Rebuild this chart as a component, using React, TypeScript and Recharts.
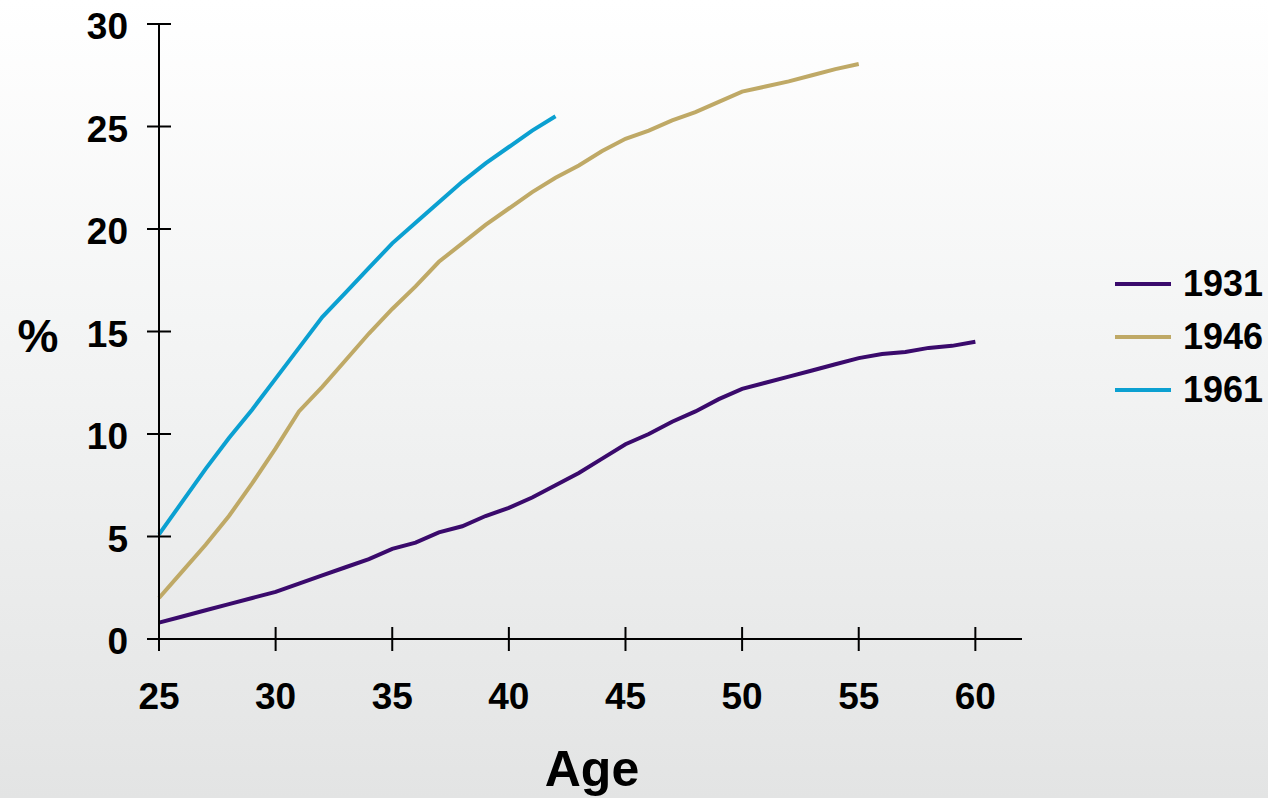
import React from 'react'
import { LineChart, Line, XAxis, YAxis } from 'recharts'

// ages 25..60, one point per year
const AGES = [
  25, 26, 27, 28, 29, 30, 31, 32, 33, 34, 35, 36, 37, 38, 39, 40, 41, 42,
  43, 44, 45, 46, 47, 48, 49, 50, 51, 52, 53, 54, 55, 56, 57, 58, 59, 60,
]

const COHORT_1931 = [
  0.8, 1.1, 1.4, 1.7, 2.0, 2.3, 2.7, 3.1, 3.5, 3.9, 4.4, 4.7, 5.2, 5.5, 6.0, 6.4, 6.9, 7.5,
  8.1, 8.8, 9.5, 10.0, 10.6, 11.1, 11.7, 12.2, 12.5, 12.8, 13.1, 13.4, 13.7, 13.9, 14.0, 14.2, 14.3, 14.5,
]

const COHORT_1946 = [
  2.0, 3.3, 4.6, 6.0, 7.6, 9.3, 11.1, 12.3, 13.6, 14.9, 16.1, 17.2, 18.4, 19.3, 20.2, 21.0, 21.8, 22.5,
  23.1, 23.8, 24.4, 24.8, 25.3, 25.7, 26.2, 26.7, 26.95, 27.2, 27.5, 27.8, 28.05,
]

const COHORT_1961 = [
  5.1, 6.7, 8.3, 9.8, 11.2, 12.7, 14.2, 15.7, 16.9, 18.1, 19.3, 20.3, 21.3, 22.3, 23.2, 24.0, 24.8, 25.5,
]

const X_TICKS = [25, 30, 35, 40, 45, 50, 55, 60]
const Y_TICKS = [0, 5, 10, 15, 20, 25, 30]

const SERIES = [
  { key: 'c1931', name: '1931', color: '#3a0a6c', values: COHORT_1931 },
  { key: 'c1946', name: '1946', color: '#bfa966', values: COHORT_1946 },
  { key: 'c1961', name: '1961', color: '#0ba0d1', values: COHORT_1961 },
]

const data = AGES.map((age, i) => {
  const row: Record<string, number | null> = { age }
  SERIES.forEach(s => {
    row[s.key] = i < s.values.length ? s.values[i] : null
  })
  return row
})

const FONT = '"Liberation Sans", Arial, sans-serif'

const XTick = ({ x, y, payload }: { x: number; y: number; payload: { value: number } }) => (
  <g>
    <line x1={x} x2={x} y1={y - 12} y2={y + 12} stroke="#000" strokeWidth={2} />
    <text x={x} y={y + 70} textAnchor="middle" fontFamily={FONT} fontWeight="bold" fontSize={37} fill="#000">
      {payload.value}
    </text>
  </g>
)

const YTick = ({ x, y, payload }: { x: number; y: number; payload: { value: number } }) => (
  <g>
    <line x1={x - 12} x2={x + 12} y1={y} y2={y} stroke="#000" strokeWidth={2} />
    <text x={x - 31} y={y + 15} textAnchor="end" fontFamily={FONT} fontWeight="bold" fontSize={37} fill="#000">
      {payload.value}
    </text>
  </g>
)

export default function App() {
  return (
    <div
      style={{
        position: 'absolute',
        left: 0,
        top: 0,
        width: 1268,
        height: 798,
        background: 'linear-gradient(to bottom, #ffffff 0%, #f4f5f5 40%, #e3e4e4 100%)',
        overflow: 'hidden',
      }}
    >
      <LineChart width={1268} height={798} data={data} margin={{ top: 24, right: 246, left: 59, bottom: 59 }}>
        <XAxis
          dataKey="age"
          type="number"
          domain={[25, 62]}
          ticks={X_TICKS}
          height={100}
          tickSize={0}
          tickMargin={0}
          tickLine={false}
          axisLine={{ stroke: '#000', strokeWidth: 2 }}
          tick={XTick}
          label={{
            content: () => (
              <text x={592} y={786} textAnchor="middle" fontFamily={FONT} fontWeight="bold" fontSize={50} fill="#000">
                Age
              </text>
            ),
          }}
        />
        <YAxis
          type="number"
          domain={[0, 30]}
          ticks={Y_TICKS}
          width={100}
          tickSize={0}
          tickMargin={0}
          tickLine={false}
          axisLine={{ stroke: '#000', strokeWidth: 2 }}
          tick={YTick}
          label={{
            content: () => (
              <text x={38} y={352} textAnchor="middle" fontFamily={FONT} fontWeight="bold" fontSize={46} fill="#000">
                %
              </text>
            ),
          }}
        />
        {SERIES.map(s => (
          <Line
            key={s.key}
            dataKey={s.key}
            name={s.name}
            type="linear"
            stroke={s.color}
            strokeWidth={4}
            dot={false}
            activeDot={false}
            connectNulls={false}
            isAnimationActive={false}
          />
        ))}
      </LineChart>

      {/* Legend */}
      <div style={{ position: 'absolute', left: 1115, top: 257 }}>
        {SERIES.map(s => (
          <div key={s.key} style={{ display: 'flex', alignItems: 'center', height: 53 }}>
            <span style={{ display: 'inline-block', width: 56, height: 4, backgroundColor: s.color }} />
            <span
              style={{
                marginLeft: 12,
                fontFamily: FONT,
                fontWeight: 'bold',
                fontSize: 36,
                color: '#000',
                lineHeight: '36px',
              }}
            >
              {s.name}
            </span>
          </div>
        ))}
      </div>
    </div>
  )
}
